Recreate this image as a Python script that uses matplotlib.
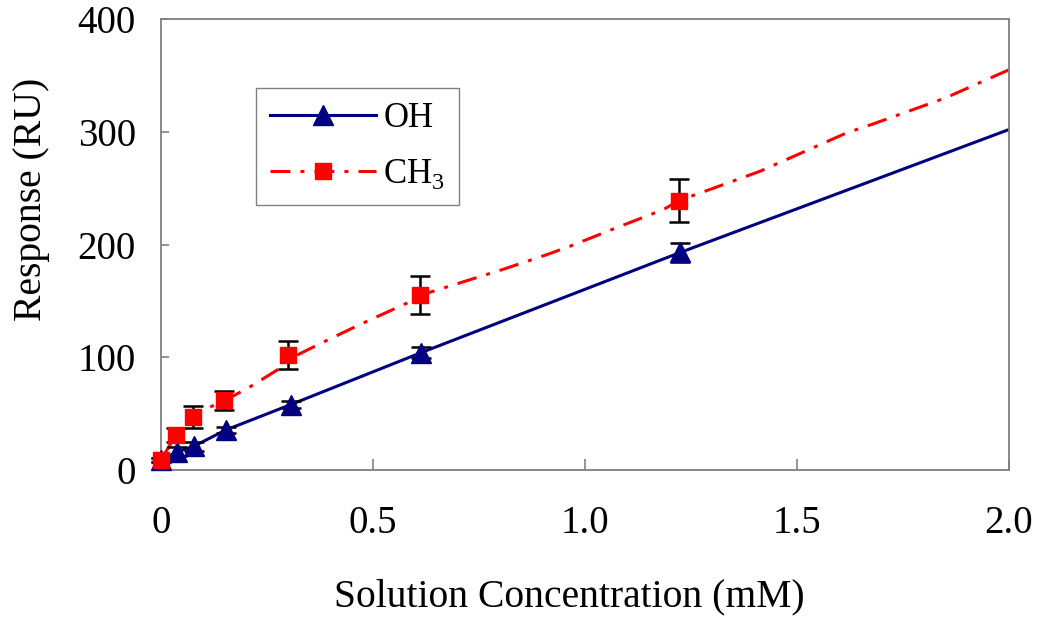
import matplotlib
matplotlib.use("Agg")
import matplotlib.pyplot as plt
from matplotlib.lines import Line2D

plt.rcParams["font.family"] = ["Liberation Serif", "DejaVu Serif"]
plt.rcParams["mathtext.fontset"] = "custom"
plt.rcParams["mathtext.rm"] = "Liberation Serif"

# measured points (mM, RU)
conc_oh = [0.0, 0.038, 0.077, 0.153, 0.306, 0.613, 1.225]
resp_oh = [9, 16, 21, 35.5, 58, 104, 193]
err_oh = [2, 4, 4, 3, 3, 5, 8.5]

conc_ch3 = [0.0, 0.035, 0.075, 0.148, 0.300, 0.612, 1.222]
resp_ch3 = [9, 31, 47, 62, 102, 155, 239]
err_ch3 = [2, 6, 10, 8.5, 12, 17, 19]

# trend lines drawn through/beyond the data
line_oh_x = conc_oh + [2.0]
line_oh_y = resp_oh + [302]
line_ch3_x = [0.0, 0.035, 0.075, 0.092, 0.148, 0.218, 0.288, 0.30, 0.375, 0.469,
              0.58, 0.612, 0.807, 0.91, 0.965, 1.075, 1.185, 1.222, 1.318, 1.413,
              1.617, 1.68, 1.85, 2.0]
line_ch3_y = [9, 31, 45, 52, 61, 75.5, 92, 98, 112, 129,
              148, 155, 178, 191, 198.5, 215, 231, 239, 252, 265,
              299, 307, 330, 355]

NAVY = "#000080"
RED = "#ff0000"
GRAY = "#808080"
DASHDOT = (0, (6.5, 3.3, 1.3, 3.3))

fig = plt.figure(figsize=(10.5, 6.19), dpi=100)
ax = fig.add_axes([0.1533, 0.2407, 0.8077, 0.7286])

ax.plot(line_ch3_x, line_ch3_y, color=RED, lw=2.2, ls=DASHDOT, zorder=2)
ax.plot(line_oh_x, line_oh_y, color=NAVY, lw=2.2, zorder=2)

ax.errorbar(conc_ch3, resp_ch3, yerr=err_ch3, fmt="none", ecolor="black",
            elinewidth=1.8, capsize=7.5, capthick=1.8, zorder=3, clip_on=False)
ax.errorbar(conc_oh, resp_oh, yerr=err_oh, fmt="none", ecolor="black",
            elinewidth=1.8, capsize=7.5, capthick=1.8, zorder=3, clip_on=False)
ax.plot(conc_oh, resp_oh, ls="none", marker="^", ms=14, color=NAVY,
        mec=NAVY, zorder=4, clip_on=False)
ax.plot(conc_ch3, resp_ch3, ls="none", marker="s", ms=11.5, color=RED,
        mec=RED, zorder=5, clip_on=False)

ax.set_xlim(0, 2.0)
ax.set_ylim(0, 400)
ax.set_xticks([0, 0.5, 1.0, 1.5, 2.0])
ax.set_xticklabels(["0", "0.5", "1.0", "1.5", "2.0"])
ax.set_yticks([0, 100, 200, 300, 400])
ax.tick_params(axis="x", direction="in", length=8, width=1.2, color=GRAY,
               labelsize=28, pad=25)
ax.tick_params(axis="y", direction="in", length=6, width=1.2, color=GRAY,
               labelsize=28, pad=18)
for s in ax.spines.values():
    s.set_color(GRAY)
    s.set_linewidth(1.3)

ax.set_xlabel("Solution Concentration (mM)", fontsize=28.5)
ax.xaxis.set_label_coords(0.482, -0.24)
ax.set_ylabel("Response (RU)", fontsize=28.5)
ax.yaxis.set_label_coords(-0.131, 0.599)

handles = [
    Line2D([], [], color=NAVY, lw=2.2, marker="^", ms=14),
    Line2D([], [], color=RED, lw=2.2, ls=DASHDOT, marker="s", ms=11.5),
]
leg = fig.legend(handles, ["OH", r"CH$_3$"], loc="upper left",
                 bbox_to_anchor=(0.2438, 0.858), fontsize=25,
                 handlelength=3.05, handletextpad=0.22, labelspacing=0.65,
                 borderpad=0.4, borderaxespad=0, fancybox=False, framealpha=1)
leg.get_frame().set_edgecolor(GRAY)
leg.get_frame().set_linewidth(1.0)

fig.savefig("out.png", dpi=100)
